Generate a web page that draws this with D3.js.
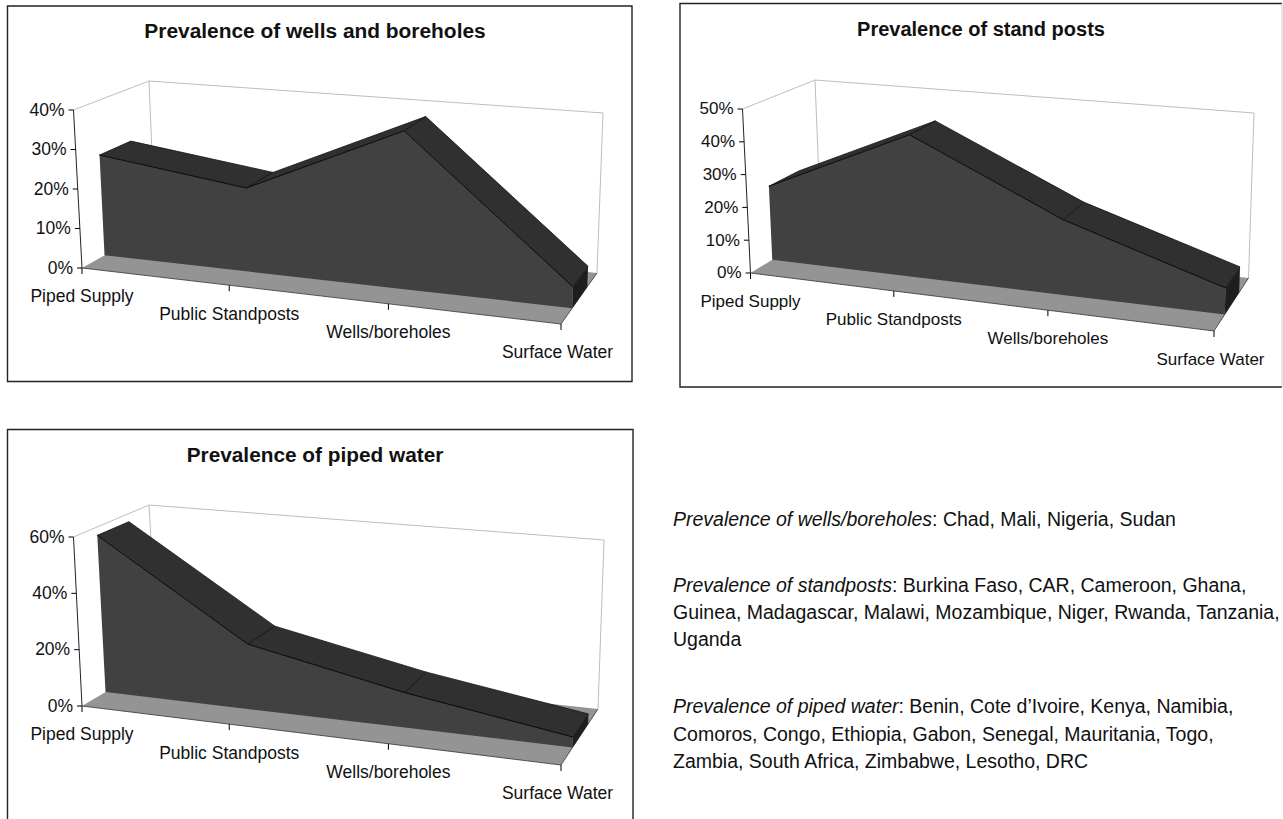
<!DOCTYPE html>
<html>
<head>
<meta charset="utf-8">
<script src="https://cdnjs.cloudflare.com/ajax/libs/d3/7.8.5/d3.min.js"></script>
<style>
    body { margin: 0; background: #fff; overflow: hidden; }
    svg { display: block; }
    text { font-family: "Liberation Sans", Arial, sans-serif; fill: #111; }
    .title { font-weight: bold; text-anchor: middle; }
    .note { font-size: 19.5px; }
</style>
</head>
<body>
<div id="chart"></div>
<script>
// Data
var categories = ["Piped Supply", "Public Standposts", "Wells/boreholes", "Surface Water"];

var wellsValues = [0.26, 0.21, 0.385, 0.05];
var standValues = [0.23, 0.43, 0.22, 0.075];
var pipedValues = [0.57, 0.23, 0.12, 0.035];

var wellsTicks = [0, 0.1, 0.2, 0.3, 0.4];
var standTicks = [0, 0.1, 0.2, 0.3, 0.4, 0.5];
var pipedTicks = [0, 0.2, 0.4, 0.6];

var notes = [
    [["Prevalence of wells/boreholes", true], [": Chad, Mali, Nigeria, Sudan", false]],
    [["Prevalence of standposts", true], [": Burkina Faso, CAR, Cameroon, Ghana,", false]],
    [["Guinea, Madagascar, Malawi, Mozambique, Niger, Rwanda, Tanzania,", false]],
    [["Uganda", false]],
    [["Prevalence of piped water", true], [": Benin, Cote d\u2019Ivoire, Kenya, Namibia,", false]],
    [["Comoros, Congo, Ethiopia, Gabon, Senegal, Mauritania, Togo,", false]],
    [["Zambia, South Africa, Zimbabwe, Lesotho, DRC", false]]
];
var noteRows = [526, 592, 619, 646, 713, 741, 768];

var svg = d3.select("#chart").append("svg")
    .attr("width", 1283)
    .attr("height", 819);

// Area sits between these two depths on the floor
var depthFront = 0.29, depthBack = 0.71;

// Maps the unit square onto a quad (p00, p10, p11, p01), keeps the perspective
function quadMap(a, b, c, d) {
    var dx1 = b[0] - c[0], dx2 = d[0] - c[0], sx = a[0] - b[0] + c[0] - d[0];
    var dy1 = b[1] - c[1], dy2 = d[1] - c[1], sy = a[1] - b[1] + c[1] - d[1];
    var den = dx1 * dy2 - dx2 * dy1;
    var g = (sx * dy2 - dx2 * sy) / den;
    var h = (dx1 * sy - sx * dy1) / den;
    return function(u, v) {
        var w = g * u + h * v + 1;
        return [
            (b[0] - a[0] + g * b[0]) * u / w + (d[0] - a[0] + h * d[0]) * v / w + a[0] / w,
            (b[1] - a[1] + g * b[1]) * u / w + (d[1] - a[1] + h * d[1]) * v / w + a[1] / w
        ];
    };
}

function drawPanel(cfg) {
    var g = svg.append("g");

    var floor = quadMap(cfg.floor[0], cfg.floor[1], cfg.floor[2], cfg.floor[3]);
    var roof = quadMap(cfg.roof[0], cfg.roof[1], cfg.roof[2], cfg.roof[3]);

    var x = d3.scalePoint().domain(categories).range([0, 1]);
    var y = d3.scaleLinear().domain([0, d3.max(cfg.ticks)]).range([0, 1]);

    // category, depth, value -> pixel
    function project(cat, depth, val) {
        var u = x(cat), f = floor(u, depth), r = roof(u, depth), t = y(val);
        return [f[0] + (r[0] - f[0]) * t, f[1] + (r[1] - f[1]) * t];
    }

    var line = d3.line();
    var rows = categories.map(function(c, i) { return {cat: c, val: cfg.values[i]}; });

    // Frame
    g.append("path")
        .attr("d", cfg.border)
        .attr("fill", "none")
        .attr("stroke", "#222")
        .attr("stroke-width", 1.4);
    if (cfg.borderRight) {
        g.append("path")
            .attr("d", cfg.borderRight)
            .attr("fill", "none")
            .attr("stroke", "#ccc");
    }

    g.append("text")
        .attr("class", "title")
        .attr("x", cfg.titleX)
        .attr("y", cfg.titleY)
        .attr("font-size", cfg.titleSize)
        .text(cfg.title);

    // Back walls
    var first = categories[0], last = categories[3], top = y.domain()[1];
    g.append("path")
        .attr("d", line([project(first, 0, top), project(first, 1, top), project(last, 1, top), project(last, 1, 0)]))
        .attr("fill", "none")
        .attr("stroke", "#bdbdbd");
    g.append("path")
        .attr("d", line([project(first, 1, top), project(first, 1, 0)]))
        .attr("fill", "none")
        .attr("stroke", "#bdbdbd");

    // Floor
    g.append("path")
        .attr("d", line([project(first, 0, 0), project(last, 0, 0), project(last, 1, 0), project(first, 1, 0)]) + "Z")
        .attr("fill", "#949494");
    g.append("path")
        .attr("d", line([project(first, 0, 0), project(last, 0, 0), project(last, 1, 0)]))
        .attr("fill", "none")
        .attr("stroke", "#333")
        .attr("stroke-width", 0.8);

    // Top of the area, one strip per segment
    d3.pairs(rows).forEach(function(p) {
        g.append("path")
            .attr("d", line([
                project(p[0].cat, depthFront, p[0].val),
                project(p[1].cat, depthFront, p[1].val),
                project(p[1].cat, depthBack, p[1].val),
                project(p[0].cat, depthBack, p[0].val)
            ]) + "Z")
            .attr("fill", "#303030")
            .attr("stroke", "#111")
            .attr("stroke-width", 0.8);
    });

    // Right end
    var end = rows[3];
    g.append("path")
        .attr("d", line([
            project(end.cat, depthFront, end.val),
            project(end.cat, depthBack, end.val),
            project(end.cat, depthBack, 0),
            project(end.cat, depthFront, 0)
        ]) + "Z")
        .attr("fill", "#1e1e1e");

    // Front face
    var front = rows.map(function(d) { return project(d.cat, depthFront, d.val); });
    var base = rows.slice().reverse().map(function(d) { return project(d.cat, depthFront, 0); });
    g.append("path")
        .attr("d", line(front.concat(base)) + "Z")
        .attr("fill", "#414141");
    g.append("path")
        .attr("d", line(front))
        .attr("fill", "none")
        .attr("stroke", "#0c0c0c")
        .attr("stroke-width", 1);

    // Value axis, ticks pushed onto the tilted edge
    var yPixel = d3.scaleLinear()
        .domain(y.domain())
        .range([project(first, 0, 0)[1], project(first, 0, top)[1]]);
    var yAxis = d3.axisLeft(yPixel)
        .tickValues(cfg.ticks)
        .tickFormat(d3.format(".0%"))
        .tickSizeOuter(0)
        .tickSize(5)
        .tickPadding(4);
    var yG = g.append("g").call(yAxis);
    yG.select(".domain")
        .attr("d", line([project(first, 0, 0), project(first, 0, top)]))
        .attr("stroke", "#222");
    yG.selectAll(".tick")
        .attr("transform", function(d) {
            var p = project(first, 0, d);
            return "translate(" + p[0] + "," + p[1] + ")";
        });
    yG.attr("font-family", null).attr("font-size", cfg.labelSize);

    // Category axis, same idea along the front floor edge
    var xAxis = d3.axisBottom(x)
        .tickSizeOuter(0)
        .tickSize(6)
        .tickPadding(16);
    var xG = g.append("g").call(xAxis);
    xG.select(".domain").remove();
    xG.selectAll(".tick")
        .attr("transform", function(d) {
            var p = project(d, 0, 0);
            return "translate(" + p[0] + "," + p[1] + ")";
        });
    // last label sits a little left of its tick
    xG.selectAll(".tick text")
        .attr("dx", function(d) { return d === last ? -3.5 : 0; });
    xG.attr("font-family", null).attr("font-size", cfg.labelSize);
}

// Box corners are front-left, front-right, back-right, back-left
drawPanel({
    title: "Prevalence of wells and boreholes",
    titleX: 315, titleY: 37.5, titleSize: 20.9, labelSize: 17.5,
    values: wellsValues,
    ticks: wellsTicks,
    border: "M7.5,6H632V381.5H7.5Z",
    floor: [[82, 268], [561, 324], [597, 273], [155, 227]],
    roof: [[73.5, 110], [567, 149.5], [603, 113], [149, 81]]
});

drawPanel({
    title: "Prevalence of stand posts",
    titleX: 981, titleY: 36, titleSize: 20, labelSize: 17,
    values: standValues,
    ticks: standTicks,
    border: "M1282,3.5H680V387H1282",
    borderRight: "M1282,3.5V387",
    floor: [[750.5, 273], [1214, 331], [1248.5, 278], [821, 230]],
    roof: [[742.5, 109], [1220, 149], [1254, 113], [815, 80]]
});

drawPanel({
    title: "Prevalence of piped water",
    titleX: 315, titleY: 462, titleSize: 20.8, labelSize: 17.5,
    values: pipedValues,
    ticks: pipedTicks,
    border: "M7.5,819V429.5H633V819",
    floor: [[82, 706], [561, 765], [598, 709], [158, 661]],
    roof: [[73.5, 537], [567, 580], [604, 540], [149, 505]]
});

// Country lists on the right
var noteText = svg.append("g").selectAll("text")
    .data(notes)
    .join("text")
    .attr("class", "note")
    .attr("x", 673)
    .attr("y", function(d, i) { return noteRows[i]; });

noteText.selectAll("tspan")
    .data(function(d) { return d; })
    .join("tspan")
    .attr("font-style", function(d) { return d[1] ? "italic" : null; })
    .text(function(d) { return d[0]; });
</script>
</body>
</html>
